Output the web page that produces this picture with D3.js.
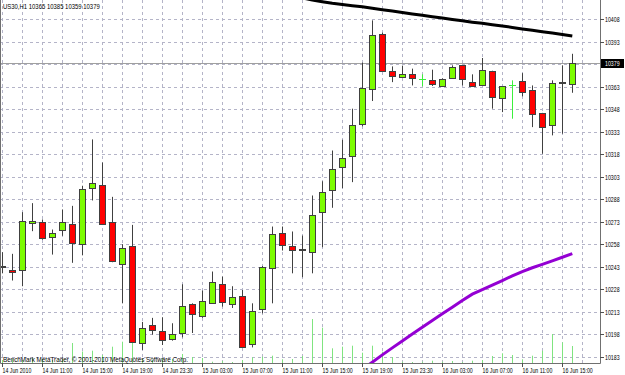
<!DOCTYPE html>
<html>
<head>
<meta charset="utf-8">
<script src="https://cdn.jsdelivr.net/npm/d3@7"></script>
<style>
  body { margin: 0; background: #fff; }
  svg text { font-family: "Liberation Sans", Arial, sans-serif; font-size: 7px; }
</style>
</head>
<body>
<div id="chart"></div>
<script>
// US30 H1 bars, 14 Jun 2010 .. 16 Jun 2010
var opens = [10243.6, 10241, 10240.9, 10272.5, 10272.5, 10262.7, 10266.9, 10271.6, 10257.8, 10295.4,
    10297.6, 10272.5, 10244.9, 10256.5, 10191.9, 10204.2, 10199.9, 10194.8, 10198.8, 10217.9,
    10209.9, 10218.6, 10231.6, 10218.6, 10223.7, 10191.2, 10214.9, 10241.6, 10265.8, 10256.7,
    10254.7, 10252.9, 10279, 10294.5, 10309.7, 10316.5, 10338.4, 10361.1, 10398.2, 10373.5,
    10369.1, 10371.3, 10368.4, 10367.3, 10363.5, 10369.1, 10377.3, 10365.9, 10364.4, 10373.5,
    10355.5, 10363.9, 10366.6, 10360.6, 10345.4, 10337.7, 10366.3, 10365];
var highs = [10252.7, 10251.6, 10279.4, 10285.4, 10274.5, 10267.8, 10281.2, 10283.6, 10297, 10327.9,
    10312.5, 10289.6, 10258, 10270.9, 10206.2, 10208.9, 10209.3, 10205.3, 10231.3, 10218.6,
    10227.1, 10239.8, 10236.4, 10230, 10227.5, 10218.6, 10243.5, 10269.8, 10269.8, 10266.5,
    10263.8, 10290.5, 10300, 10320.5, 10327.7, 10348.4, 10379.1, 10407.3, 10399.1, 10376.6,
    10377.1, 10375.1, 10371.3, 10374.4, 10368.6, 10377.3, 10377.5, 10371.3, 10382.2, 10373.7,
    10363.5, 10367.3, 10372.1, 10363.9, 10345.6, 10367.3, 10377.3, 10385];
var lows = [10238.6, 10233.8, 10230, 10266.7, 10261, 10251.1, 10263.6, 10245.6, 10250.6, 10287.2,
    10270.8, 10246, 10218.6, 10192.2, 10187.5, 10197.7, 10190.8, 10193.7, 10195.9, 10198.8,
    10208.9, 10218.2, 10216.4, 10215.5, 10189.2, 10189.2, 10211.9, 10218.6, 10253.8, 10238.6,
    10236, 10238.6, 10256, 10282.3, 10295.4, 10299.4, 10336.6, 10353.5, 10373, 10366.1,
    10369, 10363.9, 10363.3, 10363.5, 10363.3, 10369, 10363.9, 10363.2, 10364.2, 10348.4,
    10346.1, 10341.7, 10356.6, 10336.1, 10318.3, 10330.6, 10331.7, 10359];
var closes = [10243.3, 10239.8, 10273.8, 10273.8, 10261.6, 10265.6, 10272.5, 10258.7, 10294.5, 10299,
    10271.3, 10246.4, 10255.6, 10192.6, 10202.2, 10200.6, 10194.2, 10197.9, 10216.9, 10210.9,
    10219.9, 10232.6, 10219.9, 10223.1, 10189.7, 10213.5, 10243.1, 10264.5, 10258, 10253.8,
    10253.8, 10277.6, 10292.5, 10308.3, 10315.4, 10337.4, 10362.1, 10397.3, 10373.3, 10369.9,
    10371.3, 10368.4, 10368.4, 10364.4, 10368.4, 10376.2, 10368.1, 10363.3, 10374.4, 10356.1,
    10363.3, 10363.9, 10359.3, 10344.4, 10336.1, 10365.7, 10366.1, 10379];
var volumes = [30, 40, 30, 50, 40, 30, 40, 200, 115, 123,
    80, 163, 213, 200, 40, 30, 50, 40, 90, 60,
    50, 13, 20, 10, 30, 57, 63, 73, 37, 40,
    70, 440, 353, 147, 163, 173, 103, 173, 113, 60,
    13, 10, 13, 23, 13, 20, 10, 23, 30, 70,
    97, 80, 37, 73, 123, 290, 207, 170];
// moving averages, null where not drawn
var maBlack = [null, null, null, null, null, null, null, null, null, null,
    null, null, null, null, null, null, null, null, null, null,
    null, null, null, null, null, null, null, null, null, null,
    10422.3, 10420.8, 10419.7, 10418.7, 10417.9, 10417.1, 10416.3, 10415.3, 10414.4, 10413.5,
    10412.5, 10411.6, 10410.7, 10409.7, 10408.8, 10407.9, 10407.0, 10406.1, 10405.3, 10404.4,
    10403.5, 10402.6, 10401.6, 10400.7, 10399.7, 10398.8, 10397.8, 10396.8];
var maPurple = [null, null, null, null, null, null, null, null, null, null,
    null, null, null, null, null, null, null, null, null, null,
    null, null, null, null, null, null, null, null, null, null,
    null, null, null, null, null, null, 10174.6, 10179.3, 10184.2, 10188.9,
    10193.5, 10198.1, 10202.7, 10207.2, 10211.6, 10216.0, 10220.4, 10224.7, 10227.7, 10230.8,
    10233.8, 10236.9, 10239.8, 10242.3, 10244.6, 10246.9, 10249.3, 10251.8];
var priceTicks = [10183, 10198, 10213, 10228, 10243, 10258, 10273, 10288, 10303, 10318,
    10333, 10348, 10363, 10378, 10393, 10408];
var timeLabels = ["14 Jun 2010", "14 Jun 11:00", "14 Jun 15:00", "14 Jun 19:00", "14 Jun 23:30",
    "15 Jun 03:00", "15 Jun 07:00", "15 Jun 11:00", "15 Jun 15:00", "15 Jun 19:00",
    "15 Jun 23:30", "16 Jun 03:00", "16 Jun 07:00", "16 Jun 11:00", "16 Jun 15:00"];
var symbol = "US30,H1",
    lastPrice = 10379;

var width = 625,
    height = 375,
    plotW = 600,
    plotH = 363,
    bull = "#7cfc00",
    bear = "#ff0000",
    outline = "#404040",
    gridColor = "#b4b4c8";

var x = d3.scaleLinear().domain([0, 57]).range([2.3, 572.3]),
    y = d3.scaleLinear().domain([10183, 10408]).range([356.7, 19.3]),
    vy = d3.scaleLinear().domain([0, 1000]).range([plotH, plotH - 100]);

var svg = d3.select("#chart").append("svg")
    .attr("width", width)
    .attr("height", height);

svg.append("defs").append("clipPath").attr("id", "plot")
    .append("rect").attr("x", 0).attr("y", 0).attr("width", plotW).attr("height", plotH);

var g = svg.append("g").attr("clip-path", "url(#plot)");

function txt(sel, tx, ty, str, sx) {
    return sel.append("text")
        .attr("transform", "translate(" + tx + "," + ty + ") scale(" + (sx || 0.75) + ",1)")
        .text(str);
}

// grid
g.selectAll("line.hgrid")
    .data(priceTicks)
    .enter().append("line")
    .attr("class", "hgrid")
    .attr("x1", 0).attr("x2", plotW)
    .attr("y1", function(d) { return Math.round(y(d)) + 0.5; })
    .attr("y2", function(d) { return Math.round(y(d)) + 0.5; })
    .attr("stroke", gridColor)
    .attr("stroke-dasharray", "3,3");

g.selectAll("line.vgrid")
    .data(d3.range(0, 59, 2))
    .enter().append("line")
    .attr("class", "vgrid")
    .attr("x1", function(d) { return Math.round(x(d)) + 0.5; })
    .attr("x2", function(d) { return Math.round(x(d)) + 0.5; })
    .attr("y1", 0).attr("y2", plotH)
    .attr("stroke", gridColor)
    .attr("stroke-dasharray", "3,3");

// volumes
g.selectAll("line.vol")
    .data(volumes)
    .enter().append("line")
    .attr("class", "vol")
    .attr("x1", function(d, i) { return Math.round(x(i)) + 0.5; })
    .attr("x2", function(d, i) { return Math.round(x(i)) + 0.5; })
    .attr("y1", plotH)
    .attr("y2", function(d) { return vy(d); })
    .attr("stroke", "#80e480");

// current price line
g.append("line")
    .attr("x1", 0).attr("x2", plotW)
    .attr("y1", Math.round(y(lastPrice)) + 0.5)
    .attr("y2", Math.round(y(lastPrice)) + 0.5)
    .attr("stroke", "#a0a0a0");

// candles
var bars = d3.range(opens.length).map(function(i) {
    return { i: i, o: opens[i], h: highs[i], l: lows[i], c: closes[i] };
});

var candle = g.selectAll("g.candle")
    .data(bars)
    .enter().append("g")
    .attr("class", "candle");

candle.append("line")
    .attr("x1", function(d) { return Math.round(x(d.i)) + 0.5; })
    .attr("x2", function(d) { return Math.round(x(d.i)) + 0.5; })
    .attr("y1", function(d) { return y(d.h); })
    .attr("y2", function(d) { return y(d.l); })
    .attr("stroke", function(d) { return d.o == d.c ? "#3cf03c" : outline; });

candle.filter(function(d) { return d.o == d.c; })
    .append("line")
    .attr("x1", function(d) { return Math.round(x(d.i)) - 3; })
    .attr("x2", function(d) { return Math.round(x(d.i)) + 4; })
    .attr("y1", function(d) { return Math.round(y(d.o)) + 0.5; })
    .attr("y2", function(d) { return Math.round(y(d.o)) + 0.5; })
    .attr("stroke", "#3cf03c");

candle.filter(function(d) { return d.o != d.c; })
    .append("rect")
    .attr("x", function(d) { return Math.round(x(d.i)) - 2.5; })
    .attr("width", 6)
    .attr("y", function(d) { return Math.round(y(Math.max(d.o, d.c))) + 0.5; })
    .attr("height", function(d) {
        return Math.max(1, Math.round(Math.abs(y(d.o) - y(d.c))));
    })
    .attr("fill", function(d) { return d.c > d.o ? bull : bear; })
    .attr("stroke", outline);

// moving averages
var ma = d3.line()
    .defined(function(d) { return d != null; })
    .x(function(d, i) { return x(i); })
    .y(function(d) { return y(d); });

g.append("path")
    .datum(maBlack)
    .attr("d", ma)
    .attr("fill", "none")
    .attr("stroke", "#000")
    .attr("stroke-width", 3);

g.append("path")
    .datum(maPurple)
    .attr("d", ma)
    .attr("fill", "none")
    .attr("stroke", "#9400d3")
    .attr("stroke-width", 3);

// frame
svg.append("path")
    .attr("d", "M0.5,0V" + (plotH + 0.5) + "H" + (plotW + 0.5) + "V0")
    .attr("fill", "none")
    .attr("stroke", "#707070");

// price axis
var yAxis = svg.append("g");
priceTicks.forEach(function(p) {
    if (Math.abs(p - lastPrice) < 5) return;
    var py = Math.round(y(p)) + 0.5;
    yAxis.append("line")
        .attr("x1", plotW).attr("x2", plotW + 4)
        .attr("y1", py).attr("y2", py)
        .attr("stroke", "#505050");
    txt(yAxis, plotW + 5, py + 2.5, p).attr("fill", "#000");
});
var ly = Math.round(y(lastPrice)) + 0.5;
yAxis.append("rect")
    .attr("x", plotW + 1).attr("y", ly - 4.5)
    .attr("width", 23).attr("height", 9)
    .attr("fill", "#000");
txt(yAxis, plotW + 5, ly + 2.5, lastPrice).attr("fill", "#fff");

// time axis
var xAxis = svg.append("g");
timeLabels.forEach(function(t, k) {
    var tx = Math.round(x(k * 4)) + 0.5;
    xAxis.append("line")
        .attr("x1", tx).attr("x2", tx)
        .attr("y1", plotH).attr("y2", plotH + 4)
        .attr("stroke", "#505050");
    txt(xAxis, tx, plotH + 9.5, t).attr("fill", "#000");
});

// header + copyright
txt(svg, 3, 9, symbol + "  " + opens[57] + " " + highs[57] + " " + lows[57] + " " + closes[57], 0.85);
txt(svg, 3, plotH - 1.5, "BenchMark MetaTrader, \u00a9 2001-2010 MetaQuotes Software Corp.", 0.9);
</script>
</body>
</html>
